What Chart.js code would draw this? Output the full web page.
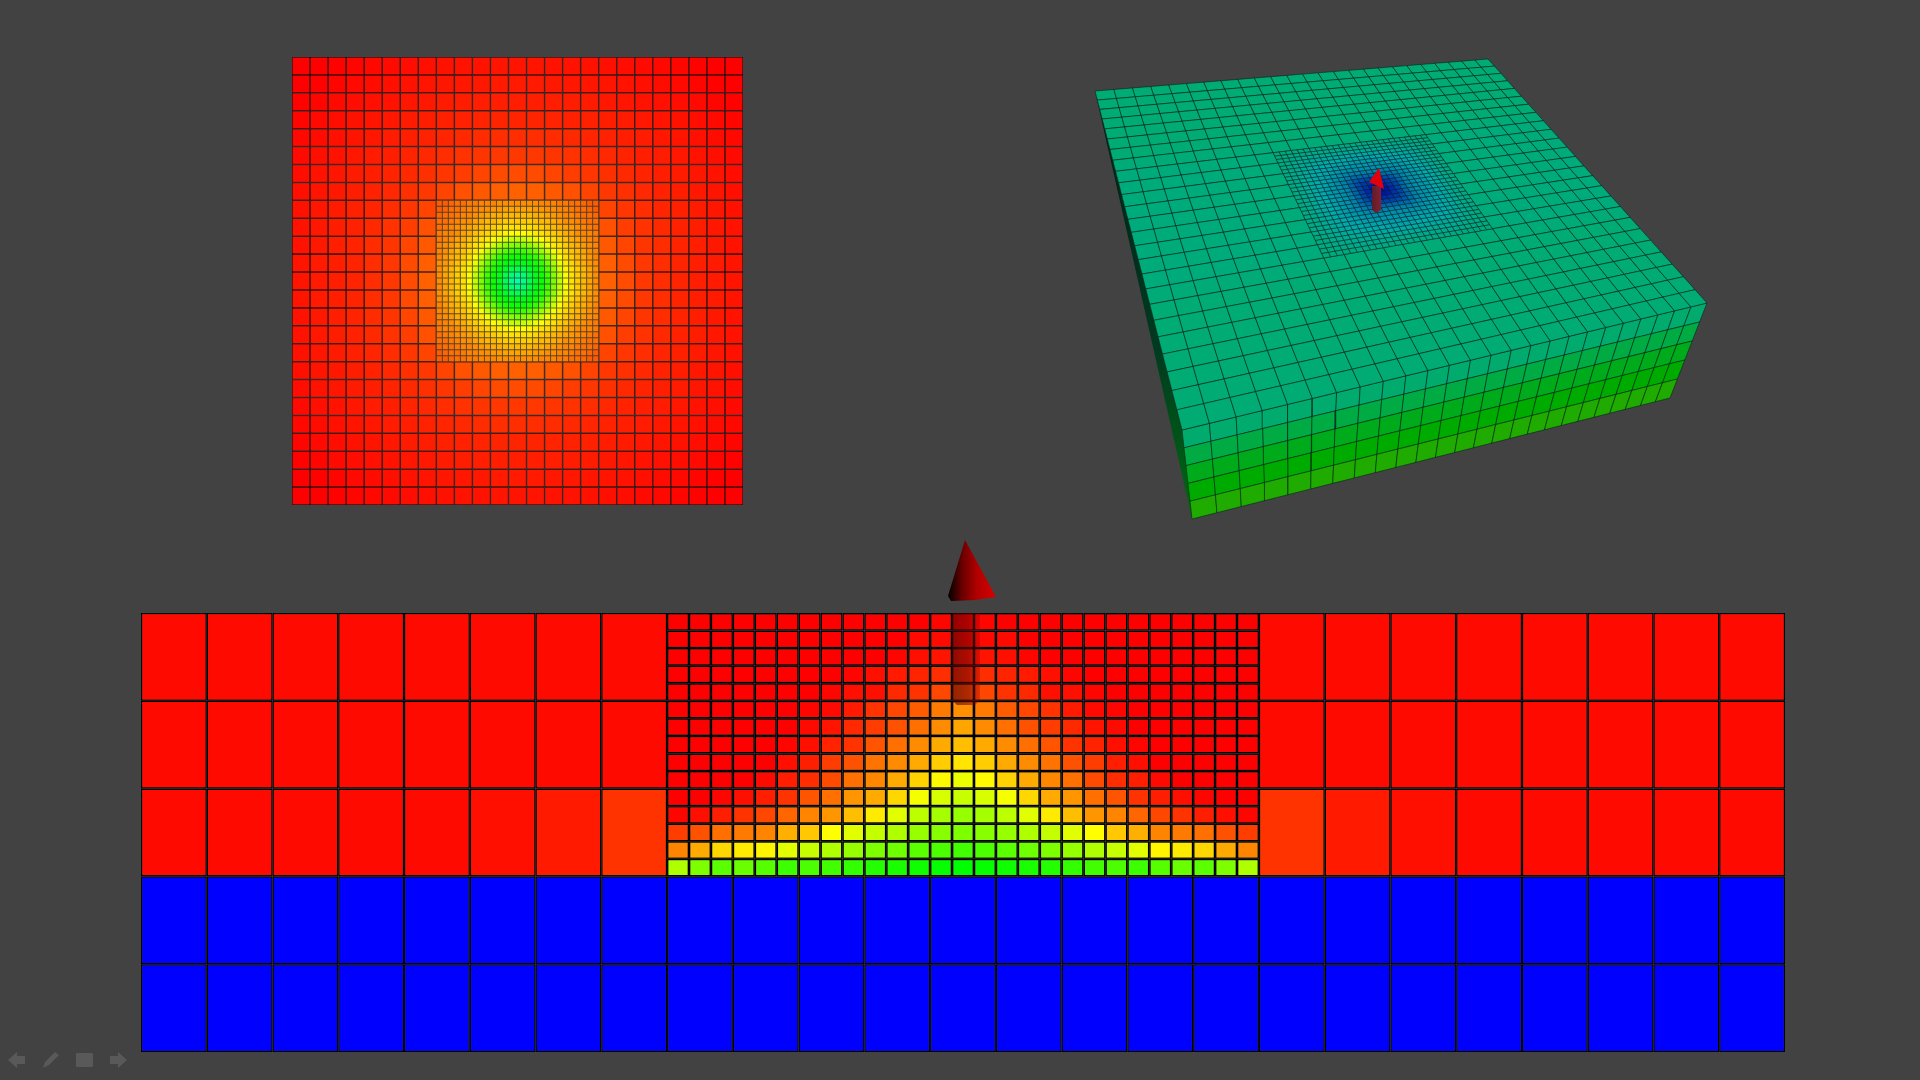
<!DOCTYPE html>
<html>
<head>
<meta charset="utf-8">
<title>Mesh views</title>
<script src="https://cdn.jsdelivr.net/npm/chart.js@4/dist/chart.umd.js"></script>
<style>
  html, body { margin: 0; width: 1920px; height: 1080px; overflow: hidden; background: #424242; }
  canvas { position: absolute; filter: blur(0.6px); }
  #planChart { left: 292px; top: 57px; }
  #sectionChart { left: 141px; top: 613px; }
  #sceneChart { left: 0; top: 0; pointer-events: none; }
  #toolbar { position: absolute; left: 0; top: 1045px; }
</style>
</head>
<body>
<canvas id="planChart" width="451" height="448"></canvas>
<canvas id="sectionChart" width="1644" height="439"></canvas>
<canvas id="sceneChart" width="1920" height="1080"></canvas>
<svg id="toolbar" width="140" height="30" fill="#595959">
  <path d="M8 15 L17 7 L17 11 L25 11 L25 19 L17 19 L17 23 Z"/>
  <path d="M43 23 L45 17 L55 7 L59 10 L49 20 Z"/>
  <rect x="76" y="8" width="17" height="14" rx="1"/>
  <path d="M127 15 L118 7 L118 11 L110 11 L110 19 L118 19 L118 23 Z"/>
</svg>

<script>
// heat values: 0 blue, .25 cyan, .5 green, .75 yellow, 1 red

// plan view, coarse cells, upper left quadrant (outer row first, outer column first)
const planCoarseValues = [
  [1, 1, .998, .995, .992, .99, .987, .985, .983, .982, .981, .98, .98],
  [1, .998, .995, .991, .988, .985, .982, .98, .978, .977, .976, .975, .975],
  [.998, .995, .99, .987, .984, .981, .978, .976, .974, .972, .971, .97, .97],
  [.995, .991, .987, .983, .98, .977, .974, .972, .969, .968, .966, .965, .965],
  [.992, .988, .984, .98, .977, .973, .97, .967, .964, .96, .957, .955, .955],
  [.99, .985, .981, .977, .973, .97, .966, .961, .956, .951, .948, .946, .945],
  [.987, .982, .978, .974, .97, .966, .96, .953, .947, .94, .932, .926, .925],
  [.985, .98, .976, .972, .967, .961, .953, .946, .933, .921, .913, .907, .905],
  [.983, .978, .974, .969, .964, .956, .947, .933, null, null, null, null, null],
  [.982, .977, .972, .968, .96, .951, .94, .921, null, null, null, null, null],
  [.981, .976, .971, .966, .957, .948, .932, .913, null, null, null, null, null],
  [.98, .975, .97, .965, .955, .946, .926, .907, null, null, null, null, null],
  [.98, .975, .97, .965, .955, .945, .925, .905, null, null, null, null, null]
];

// plan view, refined cells, one quadrant read from the centre outwards
const planFineValues = [
  [.33, .37, .42, .47, .51, .55, .62, .69, .75, .78, .80, .82, .84, .86],
  [.37, .39, .43, .48, .51, .56, .63, .69, .75, .78, .80, .82, .84, .86],
  [.42, .43, .46, .49, .53, .58, .64, .71, .76, .78, .80, .82, .84, .86],
  [.47, .48, .49, .52, .55, .61, .67, .73, .77, .79, .81, .83, .85, .86],
  [.51, .51, .53, .55, .60, .65, .70, .75, .78, .80, .82, .83, .85, .87],
  [.55, .56, .58, .61, .65, .69, .74, .77, .79, .81, .82, .84, .86, .87],
  [.62, .63, .64, .67, .70, .74, .77, .78, .80, .82, .83, .85, .86, .87],
  [.69, .69, .71, .73, .75, .77, .78, .80, .81, .83, .84, .86, .87, .88],
  [.75, .75, .76, .77, .78, .79, .80, .81, .83, .84, .86, .87, .87, .88],
  [.78, .78, .78, .79, .80, .81, .82, .83, .84, .85, .86, .87, .88, .89],
  [.80, .80, .80, .81, .82, .82, .83, .84, .86, .86, .87, .88, .89, .89],
  [.82, .82, .82, .83, .83, .84, .85, .86, .87, .87, .88, .89, .89, .90],
  [.84, .84, .84, .85, .85, .86, .86, .87, .87, .88, .89, .89, .90, .91],
  [.86, .86, .86, .86, .87, .87, .87, .88, .88, .89, .89, .90, .91, .91]
];

// section view, coarse cells, left half, top layer first
const sectionCoarseValues = [
  [.99, .99, .99, .99, .99, .99, .99, .99, null, null, null, null, null],
  [.99, .99, .99, .99, .99, .99, .99, .99, null, null, null, null, null],
  [.99, .99, .99, .99, .99, .985, .975, .95, null, null, null, null, null],
  [0, 0, 0, 0, 0, 0, 0, 0, 0, 0, 0, 0, 0],
  [0, 0, 0, 0, 0, 0, 0, 0, 0, 0, 0, 0, 0]
];

// section view, refined cells, left half up to the centre column, top row first
const sectionFineValues = [
  [1, 1, 1, 1, 1, 1, 1, 1, 1, 1, 1, 1, .995, .995],
  [1, 1, 1, 1, 1, 1, 1, 1, 1, 1, 1, .99, .99, .99],
  [1, 1, 1, 1, 1, 1, 1, 1, 1, 1, .995, .985, .98, .975],
  [1, 1, 1, 1, 1, 1, 1, 1, .995, .985, .975, .965, .955, .95],
  [1, 1, 1, 1, 1, 1, 1, .995, .985, .985, .96, .95, .93, .91],
  [1, 1, 1, 1, 1, 1, .995, .99, .975, .95, .93, .91, .88, .86],
  [1, 1, 1, 1, 1, 1, .99, .98, .96, .94, .92, .89, .863, .838],
  [1, 1, 1, 1, 1, .995, .985, .966, .95, .917, .89, .863, .833, .814],
  [1, 1, 1, 1, 1, .985, .97, .94, .92, .887, .863, .833, .799, .775],
  [1, 1, 1, 1, .99, .97, .956, .926, .89, .868, .833, .794, .755, .73],
  [1, 1, .995, .985, .97, .95, .917, .89, .853, .833, .789, .74, .711, .696],
  [.995, .985, .97, .95, .93, .90, .87, .853, .814, .77, .721, .686, .662, .647],
  [.94, .92, .89, .88, .87, .828, .804, .75, .721, .691, .672, .647, .632, .623],
  [.87, .833, .789, .77, .76, .721, .696, .672, .647, .623, .608, .588, .574, .564],
  [.672, .623, .588, .603, .583, .559, .574, .564, .549, .534, .525, .515, .505, .5]
];

// block view
const blockCoarseValues = [.33, .33, .33, .33, .33, .33, .33, .325, .32, .32, .32, .32, .32];
const blockFrontValues = [.34, .40, .46, .50, .545];
const blockFineValues = [
  [.02, .03, .06, .10, .15, .19, .21, .22, .23, .25, .26, .28, .30, .31],
  [.03, .04, .07, .10, .15, .19, .21, .22, .23, .25, .26, .28, .30, .31],
  [.06, .07, .08, .11, .15, .19, .21, .22, .23, .25, .26, .28, .30, .31],
  [.10, .10, .11, .13, .16, .19, .21, .22, .24, .25, .27, .28, .30, .31],
  [.15, .15, .15, .16, .18, .20, .21, .23, .24, .25, .27, .28, .30, .31],
  [.19, .19, .19, .19, .20, .21, .22, .23, .24, .26, .27, .29, .30, .31],
  [.21, .21, .21, .21, .21, .22, .23, .24, .25, .26, .27, .29, .30, .31],
  [.22, .22, .22, .22, .23, .23, .24, .24, .25, .26, .28, .29, .30, .31],
  [.23, .23, .23, .24, .24, .24, .25, .25, .26, .27, .28, .29, .30, .31],
  [.24, .24, .24, .25, .25, .25, .26, .26, .27, .28, .29, .30, .31, .32],
  [.26, .26, .26, .27, .27, .27, .27, .28, .28, .29, .29, .30, .31, .32],
  [.28, .28, .28, .28, .28, .29, .29, .29, .29, .30, .30, .31, .31, .32],
  [.30, .30, .30, .30, .30, .30, .30, .30, .30, .31, .31, .31, .32, .32],
  [.31, .31, .31, .31, .31, .31, .31, .31, .31, .32, .32, .32, .32, .33]
];

// mesh layout: 25 coarse columns, the middle 9 split in 3
const COARSE = 25;
const FINE_START = 8;
const FINE_COUNT = 27;
const SLOTS = Array.from({ length: COARSE * 3 }, (_, i) => i);

// corners of the block as seen on screen
const TOP_A = [1095, 91], TOP_B = [1488, 59], TOP_C = [1707, 303], TOP_D = [1182, 430];
const FOOT_E = [1192, 519], FOOT_F = [1670, 398];

const mirror = half => [...half, ...half.slice(0, -1).reverse()];
const unfold = rows => mirror(rows.map(mirror));
const unfoldFromCentre = rows => unfold(rows.map(r => r.slice().reverse()).reverse());

const heat = (v, shade = 1) => {
  let r = 0, g = 0, b = 0;
  if (v < .25) { g = 4 * v; b = 1; }
  else if (v < .5) { g = 1; b = 2 - 4 * v; }
  else if (v < .75) { r = 4 * v - 2; g = 1; }
  else { r = 1; g = 4 - 4 * v; }
  return `rgb(${Math.round(r * 255 * shade)},${Math.round(g * 255 * shade)},${Math.round(b * 255 * shade)})`;
};

// one bar dataset per mesh row, floating between its two edges
const coarseRow = (values, top, bottom, lineShade, lineWidth) => ({
  data: SLOTS.map(s => (s % 3 === 1 && values[(s - 1) / 3] !== null ? [top, bottom] : null)),
  values: SLOTS.map(s => (s % 3 === 1 ? values[(s - 1) / 3] : null)),
  barPercentage: 3,
  borderWidth: lineWidth,
  lineShade
});
const fineRow = (values, top, bottom, lineShade, lineWidth) => ({
  data: SLOTS.map(s => (s >= FINE_START * 3 && s < FINE_START * 3 + FINE_COUNT ? [top, bottom] : null)),
  values: SLOTS.map(s => values[s - FINE_START * 3]),
  barPercentage: 1,
  borderWidth: lineWidth,
  lineShade
});

const meshChart = (id, datasets, rows) => new Chart(document.getElementById(id), {
  type: 'bar',
  data: { labels: SLOTS, datasets },
  options: {
    responsive: false,
    animation: false,
    events: [],
    layout: { padding: 0 },
    plugins: { legend: { display: false }, tooltip: { enabled: false } },
    datasets: { bar: { grouped: false, categoryPercentage: 1 } },
    elements: {
      bar: {
        borderSkipped: false,
        inflateAmount: 0,
        backgroundColor: c => heat(c.dataset.values[c.dataIndex] ?? 0),
        borderColor: c => heat(c.dataset.values[c.dataIndex] ?? 0, c.dataset.lineShade)
      }
    },
    scales: {
      x: { display: false, ticks: { autoSkip: false } },
      y: { display: false, reverse: true, min: 0, max: rows }
    }
  }
});

// plan view
const planDatasets = [];
unfold(planCoarseValues).forEach((values, r) => planDatasets.push(coarseRow(values, r, r + 1, .25, .75)));
unfoldFromCentre(planFineValues).forEach((values, r) => {
  planDatasets.push(fineRow(values, FINE_START + r / 3, FINE_START + (r + 1) / 3, .6, .5));
});
meshChart('planChart', planDatasets, COARSE);

// section view
const sectionDatasets = [];
sectionCoarseValues.forEach((half, r) => sectionDatasets.push(coarseRow(mirror(half), r, r + 1, 0, 1.3)));
sectionFineValues.forEach((half, r) => sectionDatasets.push(fineRow(mirror(half), r / 5, (r + 1) / 5, 0, 1.4)));
meshChart('sectionChart', sectionDatasets, 5);

// block view, the top face is a perspective map of the unit square
const perspective = (p0, p1, p2, p3) => {
  const dx1 = p1[0] - p2[0], dx2 = p3[0] - p2[0], sx = p0[0] - p1[0] + p2[0] - p3[0];
  const dy1 = p1[1] - p2[1], dy2 = p3[1] - p2[1], sy = p0[1] - p1[1] + p2[1] - p3[1];
  const den = dx1 * dy2 - dx2 * dy1;
  const g = (sx * dy2 - dx2 * sy) / den, h = (dx1 * sy - sx * dy1) / den;
  const a = p1[0] - p0[0] + g * p1[0], b = p3[0] - p0[0] + h * p3[0];
  const d = p1[1] - p0[1] + g * p1[1], e = p3[1] - p0[1] + h * p3[1];
  return (u, w) => {
    const q = g * u + h * w + 1;
    return { x: (a * u + b * w + p0[0]) / q, y: (d * u + e * w + p0[1]) / q };
  };
};
const topFace = perspective(TOP_A, TOP_B, TOP_C, TOP_D);

// front face shares its top edge with the top face
const frontFace = (u, w) => {
  const p = topFace(u, 1);
  const t = (p.x - TOP_D[0]) / (TOP_C[0] - TOP_D[0]);
  const fx = FOOT_E[0] + (FOOT_F[0] - FOOT_E[0]) * t, fy = FOOT_E[1] + (FOOT_F[1] - FOOT_E[1]) * t;
  return { x: p.x + (fx - p.x) * w, y: p.y + (fy - p.y) * w };
};

const polygon = (points, fillColor, lineColor = 'transparent', lineWidth = 0) => ({
  data: [...points, points[0]],
  showLine: true,
  fill: 'shape',
  tension: 0,
  pointRadius: 0,
  backgroundColor: fillColor,
  borderColor: lineColor,
  borderWidth: lineWidth,
  borderJoinStyle: 'round'
});
const quad = (face, u0, w0, u1, w1) => [face(u0, w0), face(u1, w0), face(u1, w1), face(u0, w1)];
const pt = p => ({ x: p[0], y: p[1] });

const sceneCanvas = document.getElementById('sceneChart');
const sceneCtx = sceneCanvas.getContext('2d');
const stops = (x0, y0, x1, y1, list) => {
  const grad = sceneCtx.createLinearGradient(x0, y0, x1, y1);
  list.forEach(([at, color]) => grad.addColorStop(at, color));
  return grad;
};

const sceneDatasets = [];
const SHADE = .67;
const LINE_DARK = 'rgba(0,30,25,.6)';

// dark side face
sceneDatasets.push(polygon([pt(TOP_A), pt(TOP_D), pt(FOOT_E)],
  stops(0, 91, 0, 519, [[0, '#001e14'], [.6, '#003a20'], [1, '#006a10']])));

// front face
blockFrontValues.forEach((v, r) => {
  for (let c = 0; c < COARSE; c++) {
    sceneDatasets.push(polygon(quad(frontFace, c / COARSE, r / 5, (c + 1) / COARSE, (r + 1) / 5),
      heat(v, SHADE), LINE_DARK, .9));
  }
});

// top face, coarse cells
const blockCoarse = mirror(blockCoarseValues);
for (let r = 0; r < COARSE; r++) {
  for (let c = 0; c < COARSE; c++) {
    const inFine = r >= FINE_START && r < FINE_START + 9 && c >= FINE_START && c < FINE_START + 9;
    if (!inFine) {
      sceneDatasets.push(polygon(quad(topFace, c / COARSE, r / COARSE, (c + 1) / COARSE, (r + 1) / COARSE),
        heat(blockCoarse[r], SHADE), LINE_DARK, .9));
    }
  }
}

// top face, refined cells
unfoldFromCentre(blockFineValues).forEach((row, r) => {
  row.forEach((v, c) => {
    const u0 = (FINE_START + c / 3) / COARSE, u1 = (FINE_START + (c + 1) / 3) / COARSE;
    const w0 = (FINE_START + r / 3) / COARSE, w1 = (FINE_START + (r + 1) / 3) / COARSE;
    sceneDatasets.push(polygon(quad(topFace, u0, w0, u1, w1), heat(v, SHADE), 'rgba(0,30,40,.6)', .8));
  });
});

// small arrow on the block
sceneDatasets.push(polygon([pt([1372, 186]), pt([1381, 186]), pt([1381, 210]), pt([1376, 213]), pt([1372, 210])],
  stops(1372, 0, 1381, 0, [[0, '#5c1c2a'], [1, '#862030']])));
sceneDatasets.push(polygon([pt([1379, 168]), pt([1384, 189]), pt([1369, 182])], '#e2000c'));

// arrow above the section
sceneDatasets.push(polygon([pt([952, 613]), pt([980, 613]), pt([980, 700]), pt([975, 705]), pt([957, 705]), pt([952, 700])],
  stops(952, 0, 980, 0, [[0, 'rgba(70,0,0,.6)'], [.6, 'rgba(110,0,0,.55)'], [1, 'rgba(150,0,0,.3)']])));
sceneDatasets.push(polygon([pt([965, 540]), pt([996, 597]), pt([975, 600]), pt([951, 601]), pt([948, 596])],
  stops(948, 0, 996, 0, [[0, '#000000'], [.3, '#6a0000'], [.6, '#b00000'], [1, '#d80000']])));

// chart.js paints the first dataset last
sceneDatasets.reverse();

new Chart(sceneCanvas, {
  type: 'scatter',
  data: { datasets: sceneDatasets },
  options: {
    responsive: false,
    animation: false,
    events: [],
    layout: { padding: 0 },
    plugins: { legend: { display: false }, tooltip: { enabled: false } },
    scales: {
      x: { type: 'linear', display: false, min: 0, max: 1920 },
      y: { type: 'linear', display: false, reverse: true, min: 0, max: 1080 }
    }
  }
});
</script>
</body>
</html>
